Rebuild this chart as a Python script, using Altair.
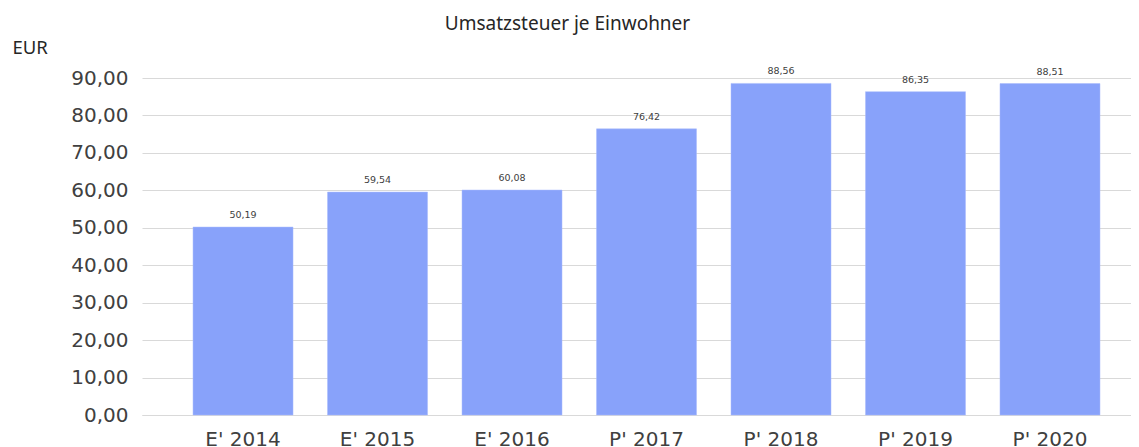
import altair as alt
import pandas as pd

categories = ["E' 2014", "E' 2015", "E' 2016", "P' 2017", "P' 2018", "P' 2019", "P' 2020"]
values = [50.19, 59.54, 60.08, 76.42, 88.56, 86.35, 88.51]

df = pd.DataFrame({"Jahr": categories, "Wert": values})

base = alt.Chart(df).encode(
    x=alt.X("Jahr:N", sort=categories,
            scale=alt.Scale(paddingInner=0.2565, paddingOuter=0.305, align=0.622),
            axis=alt.Axis(title=None, labelAngle=0, labelFont="DejaVu Sans", labelFontSize=20,
                          labelColor="#404040", labelPadding=14, ticks=False,
                          domainColor="#d9d9d9", domainWidth=1, grid=False)),
    y=alt.Y("Wert:Q", scale=alt.Scale(domain=[0, 90], nice=False),
            axis=alt.Axis(values=list(range(0, 100, 10)), title="EUR",
                          labelExpr="replace(format(datum.value, '.2f'), '.', ',')",
                          labelFont="DejaVu Sans", labelFontSize=20, labelColor="#404040",
                          labelPadding=14, ticks=False, domain=False, labelOverlap=False,
                          gridColor="#d9d9d9", gridWidth=1,
                          titleAngle=0, titleAlign="left", titleBaseline="middle",
                          titleX=-130, titleY=-31, titleFont="Noto Sans",
                          titleFontSize=18.5, titleFontWeight="normal", titleColor="#262626")),
)

bars = base.mark_bar(color="#88a2fa", stroke="#a8bafc", strokeWidth=0.5)

labels = base.transform_calculate(
    lab="replace(format(datum.Wert, '.2f'), '.', ',')"
).mark_text(font="DejaVu Sans", fontSize=9.5, color="#404040", baseline="middle", dy=-12).encode(
    text="lab:N"
)

chart = alt.layer(bars, labels).properties(
    width=989, height=337,
    autosize=alt.AutoSizeParams(type="none"),
    padding={"left": 134, "top": 70, "right": 0, "bottom": 40},
    title=alt.TitleParams("Umsatzsteuer je Einwohner", font="Noto Sans", fontSize=19,
                          fontWeight="normal", color="#262626", anchor="middle",
                          frame="group", dx=-69, dy=0),
).configure_view(stroke=None)

chart.save("out.html", embed_options={"renderer": "svg", "actions": False})
